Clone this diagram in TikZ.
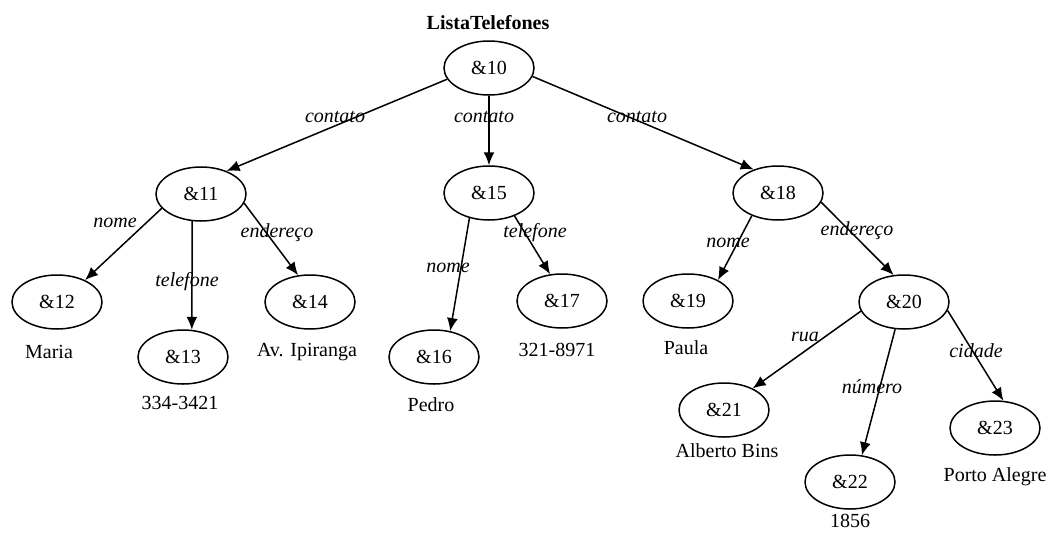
\documentclass[tikz,border=0pt]{standalone}
\usepackage{fontspec}
\setmainfont{Liberation Serif}
\usepackage{tikz}
\usetikzlibrary{arrows.meta,shapes.geometric}

\tikzset{
  obj/.style={ellipse,draw,line width=1.5pt,minimum width=90pt,minimum height=54pt,inner sep=0pt},
  lbl/.style={font=\fontsize{20}{24}\selectfont\itshape,inner sep=0pt},
  val/.style={font=\fontsize{20}{24}\selectfont,inner sep=0pt},
  arc/.style={line width=1.5pt,-{Latex[length=13pt,width=11pt]}}
}

\begin{document}
\begin{tikzpicture}[x=1pt,y=-1pt,every node/.style={font=\fontsize{20}{24}\selectfont}]
\useasboundingbox (0,0) rectangle (1048,533);
\node[val,font=\fontsize{20}{24}\selectfont\bfseries] (root) at (488,23) {ListaTelefones};
% objects
\node[obj] (n10) at (489,68) {\&10};
\node[obj] (n11) at (201,194) {\&11};
\node[obj] (n12) at (57,302) {\&12};
\node[obj] (n13) at (183,357) {\&13};
\node[obj] (n14) at (310,302) {\&14};
\node[obj] (n15) at (489,193) {\&15};
\node[obj] (n16) at (434,357) {\&16};
\node[obj] (n17) at (562,301) {\&17};
\node[obj] (n18) at (778,193) {\&18};
\node[obj] (n19) at (688,301) {\&19};
\node[obj] (n20) at (904,302) {\&20};
\node[obj] (n21) at (724,410) {\&21};
\node[obj] (n22) at (850,482) {\&22};
\node[obj] (n23) at (995,428) {\&23};
% atomic values
\node[val] (v12) at (49,352) {Maria};
\node[val] (v13) at (180,403) {334-3421};
\node[val] (v14) at (307,352) {Av. Ipiranga};
\node[val] (v16) at (431,405) {Pedro};
\node[val] (v17) at (557,350) {321-8971};
\node[val] (v19) at (686,348) {Paula};
\node[val] (v21) at (727,451) {Alberto Bins};
\node[val] (v22) at (850,521) {1856};
\node[val] (v23) at (995,477) {Porto Alegre};
% edges
\draw[arc] (n10.195) -- (n11.42);
\draw[arc] (n10.270) -- (n15.90);
\draw[arc] (n10.349) -- (n18.136);
\draw[arc] (n11.200) -- (n12.38);
\draw[arc] (n11.252) -- (n13.72);
\draw[arc] (n11.348) -- (n14.114);
\draw[arc] (n15.232) -- (n16.58);
\draw[arc] (n15.318) -- (n17.114);
\draw[arc] (n18.221) -- (n19.35);
\draw[arc] (n18.348) -- (n20.111);
\draw[arc] (n20.192) -- (n21.37);
\draw[arc] (n20.252) -- (n22.66);
\draw[arc] (n20.349) -- (n23.73);
% edge labels
\node[lbl] (e1) at (335,117) {contato};
\node[lbl] (e2) at (484,117) {contato};
\node[lbl] (e3) at (637,117) {contato};
\node[lbl] (e4) at (115,223) {nome};
\node[lbl] (e5) at (187,282) {telefone};
\node[lbl] (e6) at (277,233) {endereço};
\node[lbl] (e7) at (448,268) {nome};
\node[lbl] (e8) at (535,233) {telefone};
\node[lbl] (e9) at (728,243) {nome};
\node[lbl] (e10) at (857,231) {endereço};
\node[lbl] (e11) at (805,337) {rua};
\node[lbl] (e12) at (872,387) {número};
\node[lbl] (e13) at (976,351) {cidade};
\end{tikzpicture}
\end{document}
